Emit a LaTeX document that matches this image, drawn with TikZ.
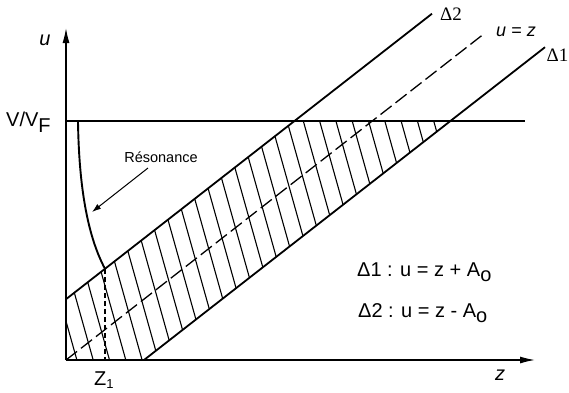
\documentclass[tikz,border=0pt]{standalone}
\usepackage{fontspec}
\setmainfont{Liberation Sans}
\newfontfamily\serifdelta{Liberation Serif}
\usetikzlibrary{arrows.meta}
\newcommand{\lowsub}[2][0.45ex]{\raisebox{-#1}{#2}}
\begin{document}
\begin{tikzpicture}[x=1pt,y=-1pt,
  axisline/.style={line width=1.3pt,-{Latex[length=15pt,width=7pt]}},
  mainline/.style={line width=1.8pt},
  hatchline/.style={line width=1.1pt},
  midline/.style={line width=1.3pt,dash pattern=on 14pt off 5pt},
  zline/.style={line width=1.3pt,dash pattern=on 5pt off 3pt},
  curveline/.style={line width=1.9pt},
  resarrow/.style={line width=1pt,-{Latex[length=9pt,width=6pt]}},
  lbl/.style={inner sep=0pt,font=\fontsize{20}{22}\selectfont},
  smalllbl/.style={inner sep=0pt,font=\fontsize{14.5}{16}\selectfont},
  deltalbl/.style={inner sep=0pt,font=\serifdelta\fontsize{19}{21}\selectfont}]
\useasboundingbox (0,0) rectangle (569,392);
% key points
\coordinate (O) at (66,360);
\coordinate (utip) at (66,28);
\coordinate (ztip) at (535,360);
\coordinate (hL) at (66,121);
\coordinate (hR) at (525,121);
\coordinate (d2a) at (66,299.2);
\coordinate (d2b) at (432,13.7);
\coordinate (mb) at (485,33);
\coordinate (d1a) at (144,360);
\coordinate (d1b) at (545,47.2);
\coordinate (d2h) at (294.5,121);
\coordinate (d1h) at (450.4,121);
\coordinate (rtop) at (78,122);
\coordinate (rbot) at (105,268.8);
\coordinate (z1) at (105,360);
\coordinate (ra) at (148,168);
\coordinate (rb) at (92,212);
% hatching
\begin{scope}
  \clip (O) -- (d1a) -- (d1h) -- (d2h) -- (d2a) -- cycle;
  \foreach \k in {0,...,29}{
    \pgfmathsetmacro{\xo}{-6.4+16.3*\k}
    \draw[hatchline] (\xo-5.6,101) -- (\xo+72.6,380);
  }
\end{scope}
% lines
\draw[mainline] (hL) -- (hR);
\draw[mainline] (d2a) -- (d2b);
\draw[mainline] (d1a) -- (d1b);
\draw[midline] (O) -- (mb);
\draw[curveline] (rtop) .. controls (79,185) and (87,235) .. (rbot);
\draw[zline] (rbot) -- (z1);
\draw[resarrow] (ra) -- (rb);
% axes
\draw[axisline] (O) -- (utip);
\draw[axisline] (O) -- (ztip);
% labels
\node[lbl,font=\fontsize{20}{22}\selectfont\itshape] (ulab) at (45,40) {u};
\node[lbl,font=\fontsize{20}{22}\selectfont\itshape] (zlab) at (500,375) {z};
\node[lbl,anchor=west] (vlab) at (6,122) {V/V\lowsub[0.55ex]{F}};
\node[lbl,anchor=west] (z1lab) at (94,380) {Z\lowsub[0.35ex]{\fontsize{13}{13}\selectfont 1}};
\node[smalllbl] (reslab) at (161,157) {Résonance};
\node[lbl,font=\fontsize{18}{20}\selectfont\itshape] (uzlab) at (516,32) {u\hspace{5pt}=\hspace{5pt}z};
\node[deltalbl] (d2lab) at (451,14) {Δ2};
\node[deltalbl,anchor=east] (d1lab) at (568.5,55) {Δ1};
\node[lbl,anchor=west] (eq1) at (357,272) {Δ1 : u = z + A\lowsub{o}};
\node[lbl,anchor=west] (eq2) at (358,313) {Δ2 : u = z - A\lowsub{o}};
\end{tikzpicture}
\end{document}
